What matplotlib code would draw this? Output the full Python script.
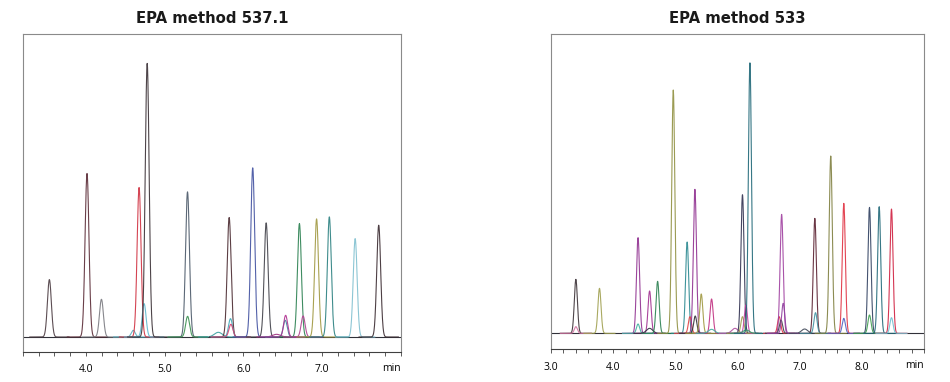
import numpy as np
from matplotlib import pyplot as plt
from matplotlib.ticker import MultipleLocator

# EPA method 537.1: retention time (min), peak height (a.u.), colour
l_time = [3.535, 4.013, 4.196, 4.60, 4.674, 4.738, 4.777, 5.289, 5.29, 5.68,
          5.818, 5.835, 5.84, 6.117, 6.288, 6.42, 6.53, 6.535, 6.71, 6.757,
          6.928, 7.09, 7.418, 7.717]
l_height = [172, 490, 113, 20, 448, 100, 820, 435, 62, 14,
            358, 55, 38, 507, 342, 8, 50, 65, 340, 63,
            354, 360, 295, 335]
l_color = ["#4a3a40", "#5a2a35", "#7a7a80", "#5ab0c0", "#d03040", "#60b8d0",
           "#3a3035", "#4a5868", "#3a9050", "#3aa0a0", "#4a2a30", "#40a8b8",
           "#d04070", "#4050a0", "#404048", "#a03080", "#3a88a0", "#b03090",
           "#2a8050", "#b04090", "#a09840", "#2a8080", "#80c0d0", "#3a2a30"]

# EPA method 533
r_time = [3.40, 3.40, 3.78, 4.40, 4.40, 4.586, 4.586, 4.715, 4.967, 5.19,
          5.235, 5.315, 5.32, 5.417, 5.583, 5.583, 5.96, 6.08, 6.08, 6.135,
          6.14, 6.20, 6.67, 6.71, 6.70, 6.735, 7.08, 7.244, 7.255, 7.50,
          7.71, 7.71, 8.123, 8.123, 8.279, 8.477, 8.477]
r_height = [162, 20, 135, 287, 28, 127, 15, 156, 730, 274,
            50, 432, 52, 118, 103, 12, 15, 416, 50, 85,
            10, 812, 50, 357, 40, 90, 13, 345, 62, 532,
            390, 45, 378, 55, 380, 373, 47]
r_color = ["#3a3035", "#d070a0", "#a0a050", "#903090", "#40b0a0", "#a03090",
           "#303040", "#2a8050", "#909040", "#2a8890", "#e04040", "#903090",
           "#303035", "#a09840", "#c03080", "#40b0a0", "#b050a0", "#303050",
           "#a0a050", "#c040a0", "#30a060", "#206878", "#e03040", "#a040a0",
           "#404048", "#9040a0", "#404858", "#5a2030", "#4090a0", "#808040",
           "#e03040", "#5060c0", "#304060", "#40a050", "#206878", "#d02040",
           "#70c0d0"]

sigma = 0.025


def draw_panel(ax, times, heights, colors, xlim, ylim, title, labels):
    t = np.linspace(xlim[0], xlim[1], 3000)
    ax.plot(xlim, [0, 0], color="#303038", lw=0.8, zorder=1)
    for t0, h, c in zip(times, heights, colors):
        s = sigma * (2.0 if h < 20 else 1.0)
        mask = np.abs(t - t0) < 0.25
        y = h * np.exp(-0.5 * ((t[mask] - t0) / s) ** 2)
        ax.plot(t[mask], y, color=c, lw=0.8, alpha=0.9, zorder=2)
    ax.set_xlim(*xlim)
    ax.set_ylim(*ylim)
    ax.set_yticks([])
    ax.xaxis.set_minor_locator(MultipleLocator(0.2))
    ax.set_xticks(labels)
    ax.set_xticklabels(["%.1f" % v for v in labels])
    ax.tick_params(axis="x", which="both", direction="out", length=3,
                   width=0.6, color="#404040", labelsize=7.5, pad=6)
    for side in ["top", "left", "right"]:
        ax.spines[side].set_color("#8a8a8a")
        ax.spines[side].set_linewidth(0.8)
    ax.spines["bottom"].set_color("#404040")
    ax.spines["bottom"].set_linewidth(0.8)
    ax.set_title(title, fontsize=10.7, fontweight="bold", pad=8,
                 family="DejaVu Sans", color="#1a1a1a")
    ax.annotate("min", xy=(1.0, 0.0), xycoords="axes fraction",
                xytext=(0, -12), textcoords="offset points",
                ha="right", va="center", fontsize=7.5)


fig = plt.figure(figsize=(9.5, 3.82), dpi=100)
plt.rcParams["font.family"] = ["Open Sans", "DejaVu Sans"]

ax1 = fig.add_axes([23 / 950, 1 - 352 / 382, 378 / 950, 318 / 382])
draw_panel(ax1, l_time, l_height, l_color, (3.2, 8.0), (-45, 908),
           "EPA method 537.1", [4.0, 5.0, 6.0, 7.0])

ax2 = fig.add_axes([551 / 950, 1 - 349 / 382, 373 / 950, 315 / 382])
draw_panel(ax2, r_time, r_height, r_color, (3.0, 9.0), (-47, 898),
           "EPA method 533", [3.0, 4.0, 5.0, 6.0, 7.0, 8.0])

fig.savefig("out.png", dpi=100)
